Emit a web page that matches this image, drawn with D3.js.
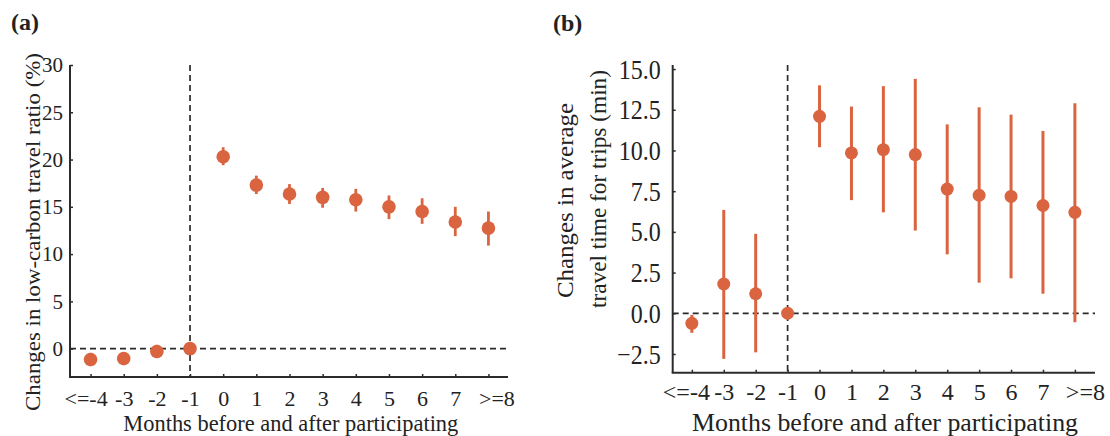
<!DOCTYPE html>
<html>
<head>
<meta charset="utf-8">
<script src="https://cdn.jsdelivr.net/npm/d3@7"></script>
<style>
  body { margin: 0; background: #fff; }
  svg text { font-family: "Liberation Serif", "Times New Roman", serif; fill: #222; }
</style>
</head>
<body>
<svg id="chart" width="1110" height="436"></svg>
<script>
// x categories (shared by both panels)
const months = ['<=-4', '-3', '-2', '-1', '0', '1', '2', '3', '4', '5', '6', '7', '>=8'];
const refIndex = 3; // "-1" is the reference month

// (a) changes in low-carbon travel ratio (%)
const ratioEst = [-1.15, -1.05, -0.3, 0, 20.3, 17.3, 16.35, 16.0, 15.75, 15.0, 14.5, 13.4, 12.75];
const ratioLo  = [-1.85, -1.75, -1.0, 0, 19.4, 16.35, 15.3, 14.9, 14.5, 13.7, 13.2, 11.9, 10.9];
const ratioHi  = [-0.45, -0.35, 0.4, 0, 21.3, 18.3, 17.4, 17.0, 16.9, 16.2, 15.9, 15.0, 14.5];
const ratioTicks = [0, 5, 10, 15, 20, 25, 30];

// (b) changes in average travel time for trips (min)
const timeEst = [-0.62, 1.8, 1.2, 0, 12.1, 9.85, 10.05, 9.75, 7.63, 7.25, 7.18, 6.62, 6.2];
const timeLo  = [-1.2, -2.8, -2.4, 0, 10.2, 6.95, 6.2, 5.08, 3.62, 1.88, 2.15, 1.2, -0.55];
const timeHi  = [-0.1, 6.35, 4.88, 0, 14.0, 12.7, 13.95, 14.4, 11.6, 12.65, 12.2, 11.2, 12.9];
const timeTicks = [-2.5, 0, 2.5, 5, 7.5, 10, 12.5, 15];

const orange = '#d9643f';
const axisColor = '#2b2b2b';
const serif = '"Liberation Serif", "Times New Roman", serif';
const svg = d3.select('#chart').attr('font-family', serif);

function panel(opt)
{
    const g = svg.append('g');
    const x = d3.scaleLinear().domain(opt.xDomain).range(opt.xRange);
    const y = d3.scaleLinear().domain(opt.yDomain).range(opt.yRange);

    // reference lines
    g.append('line')
        .attr('x1', opt.xRange[0]).attr('x2', opt.xRange[1])
        .attr('y1', y(0)).attr('y2', y(0))
        .attr('stroke', axisColor).attr('stroke-width', 1.7)
        .attr('stroke-dasharray', '6,4');
    g.append('line')
        .attr('x1', x(refIndex)).attr('x2', x(refIndex))
        .attr('y1', opt.yRange[1]).attr('y2', opt.yRange[0])
        .attr('stroke', axisColor).attr('stroke-width', 1.7)
        .attr('stroke-dasharray', '6,4');

    // y axis
    let yAxis = g.append('g')
        .attr('transform', 'translate(' + opt.xRange[0] + ',0)')
        .call(d3.axisLeft(y).tickValues(opt.yTicks).tickFormat(opt.yFormat)
            .tickSizeInner(-3).tickSizeOuter(0).tickPadding(opt.yPad))
        .attr('font-family', serif);
    yAxis.select('.domain').attr('stroke', axisColor).attr('stroke-width', 2)
        .attr('d', 'M0,' + opt.yRange[1] + 'V' + opt.yRange[0]);
    yAxis.selectAll('.tick line').attr('stroke', axisColor).attr('stroke-width', 1.5);
    yAxis.selectAll('.tick text')
        .attr('font-family', serif)
        .attr('font-size', opt.yFont)
        .attr('fill', '#222')
        .attr('transform', 'scale(1,' + opt.yStretch + ')');

    // x axis
    let xAxis = g.append('g')
        .attr('transform', 'translate(0,' + opt.yRange[0] + ')')
        .call(d3.axisBottom(x).tickValues(d3.range(months.length)).tickFormat(i => months[i])
            .tickSizeInner(-3).tickSizeOuter(0).tickPadding(opt.xPad))
        .attr('font-family', serif);
    xAxis.select('.domain').attr('stroke', axisColor).attr('stroke-width', 2)
        .attr('d', 'M' + (opt.xRange[0] - 1) + ',0H' + opt.xRange[1]);
    xAxis.selectAll('.tick line').attr('stroke', axisColor).attr('stroke-width', 1.5);
    xAxis.selectAll('.tick text')
        .attr('font-family', serif)
        .attr('font-size', opt.xFont)
        .attr('fill', '#222')
        // the two open-ended labels sit a little off their ticks
        .attr('dx', (d, i) => i === 0 ? -opt.edgeShift[0] : (i === months.length - 1 ? opt.edgeShift[1] : 0));

    // error bars
    const idx = d3.range(months.length).filter(i => opt.lo[i] !== opt.hi[i]);
    g.selectAll('line.err').data(idx).enter().append('line')
        .attr('class', 'err')
        .attr('x1', i => x(i)).attr('x2', i => x(i))
        .attr('y1', i => y(opt.lo[i])).attr('y2', i => y(opt.hi[i]))
        .attr('stroke', orange).attr('stroke-width', opt.barWidth);

    // points
    g.selectAll('circle').data(opt.est).enter().append('circle')
        .attr('cx', (d, i) => x(i)).attr('cy', d => y(d))
        .attr('r', opt.r).attr('fill', orange);

    return g;
}

panel({
    xDomain: [-0.62, 12.59], xRange: [70, 508],
    yDomain: [-3, 30], yRange: [377, 65],
    yTicks: ratioTicks, yFormat: d3.format('d'), yPad: 7, yFont: 21, yStretch: 1,
    xPad: 13, xFont: 22, edgeShift: [5, 8],
    est: ratioEst, lo: ratioLo, hi: ratioHi, r: 6.8, barWidth: 2.8
});

panel({
    xDomain: [-0.6, 12.63], xRange: [672.7, 1095],
    yDomain: [-3.65, 15.25], yRange: [372.7, 65],
    yTicks: timeTicks, yFormat: d3.format('.1f'), yPad: 12, yFont: 24, yStretch: 1.18,
    xPad: 10, xFont: 24, edgeShift: [6, 10],
    est: timeEst, lo: timeLo, hi: timeHi, r: 6.5, barWidth: 3
});

// panel letters
svg.append('text').attr('x', 11).attr('y', 30)
    .attr('font-size', 24).attr('font-weight', 'bold').text('(a)');
svg.append('text').attr('x', 553).attr('y', 31)
    .attr('font-size', 24).attr('font-weight', 'bold').text('(b)');

// axis titles
svg.append('text')
    .attr('transform', 'translate(39.5,232) rotate(-90)')
    .attr('text-anchor', 'middle').attr('font-size', 21)
    .attr('textLength', 358).attr('lengthAdjust', 'spacingAndGlyphs')
    .text('Changes in low-carbon travel ratio (%)');
svg.append('text')
    .attr('x', 290.8).attr('y', 431)
    .attr('text-anchor', 'middle').attr('font-size', 23)
    .attr('textLength', 335).attr('lengthAdjust', 'spacingAndGlyphs')
    .text('Months before and after participating');

svg.append('text')
    .attr('transform', 'translate(572.5,200.5) rotate(-90)')
    .attr('text-anchor', 'middle').attr('font-size', 24)
    .attr('textLength', 195).attr('lengthAdjust', 'spacingAndGlyphs')
    .text('Changes in average');
svg.append('text')
    .attr('transform', 'translate(606,189) rotate(-90)')
    .attr('text-anchor', 'middle').attr('font-size', 24)
    .attr('textLength', 238).attr('lengthAdjust', 'spacingAndGlyphs')
    .text('travel time for trips (min)');
svg.append('text')
    .attr('x', 885).attr('y', 431)
    .attr('text-anchor', 'middle').attr('font-size', 25)
    .attr('textLength', 386).attr('lengthAdjust', 'spacingAndGlyphs')
    .text('Months before and after participating');
</script>
</body>
</html>
